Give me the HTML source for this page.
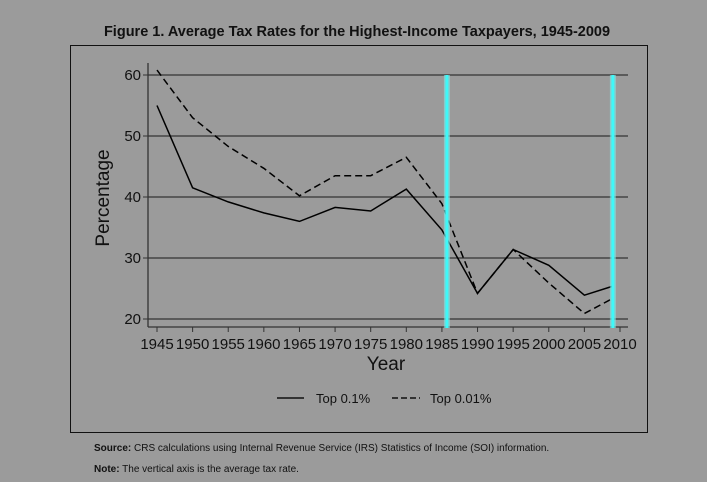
<!DOCTYPE html>
<html><head><meta charset="utf-8"><style>
html,body{margin:0;padding:0;background:#9b9b9b;width:707px;height:482px;overflow:hidden;}
svg{display:block;}
</style></head><body>
<svg width="707" height="482" xmlns="http://www.w3.org/2000/svg">
<rect x="0" y="0" width="707" height="482" fill="#9b9b9b"/>
<text x="357" y="36" text-anchor="middle" font-family="Liberation Sans, sans-serif" font-size="14.5" font-weight="bold" fill="#111">Figure 1. Average Tax Rates for the Highest-Income Taxpayers, 1945-2009</text>
<rect x="70.5" y="45.5" width="577" height="387" fill="none" stroke="#111" stroke-width="1"/>
<g id="grid"></g>
<g id="axes"></g>
<g id="series"></g>
<g id="markers"></g>
<text x="0" y="0" transform="translate(109,198) rotate(-90)" text-anchor="middle" font-family="Liberation Sans, sans-serif" font-size="19" fill="#111">Percentage</text>
<text x="386" y="370" text-anchor="middle" font-family="Liberation Sans, sans-serif" font-size="19" fill="#111">Year</text>
<g>
<line x1="277" y1="398" x2="304" y2="398" stroke="#111" stroke-width="1.5"/>
<text x="316" y="403" font-family="Liberation Sans, sans-serif" font-size="13" fill="#111">Top 0.1%</text>
<line x1="392" y1="398" x2="420" y2="398" stroke="#111" stroke-width="1.5" stroke-dasharray="6,3"/>
<text x="430" y="403" font-family="Liberation Sans, sans-serif" font-size="13" fill="#111">Top 0.01%</text>
</g>
<text x="94" y="451" font-family="Liberation Sans, sans-serif" font-size="10" fill="#111"><tspan font-weight="bold">Source:</tspan> CRS calculations using Internal Revenue Service (IRS) Statistics of Income (SOI) information.</text>
<text x="94" y="472" font-family="Liberation Sans, sans-serif" font-size="10" fill="#111"><tspan font-weight="bold">Note:</tspan> The vertical axis is the average tax rate.</text>
</svg>
<script>
const years = [1945,1950,1955,1960,1965,1970,1975,1980,1985,1990,1995,2000,2005,2009];
const top01 = [55,41.5,39.2,37.4,36.0,38.3,37.7,41.3,34.6,24.2,31.4,28.8,23.9,25.4];
const top001 = [60.8,53,48.3,44.7,40.2,43.5,43.5,46.5,38.9,24.2,31.4,25.9,20.9,23.4];
const yTicks = [20,30,40,50,60];
const xTicks = [1945,1950,1955,1960,1965,1970,1975,1980,1985,1990,1995,2000,2005,2010];
const markerYears = [1985.7,2009];

const NS='http://www.w3.org/2000/svg';
function X(v){return 157+(v-1945)*(620-157)/65;}
function Y(v){return 319-(v-20)*(319-75)/40;}
function mk(tag,attrs,parent){const e=document.createElementNS(NS,tag);for(const k in attrs)e.setAttribute(k,attrs[k]);document.getElementById(parent).appendChild(e);return e;}

yTicks.forEach(t=>{
  const g=mk('line',{x1:148,x2:628,y1:Y(t),y2:Y(t),stroke:'#333','stroke-width':1.3},'grid');
  
  
  const tk=mk('line',{x1:143,x2:148,y1:Y(t),y2:Y(t),stroke:'#333','stroke-width':1},'axes');
  
  
  const tx=mk('text',{x:141,y:Y(t)+5,'text-anchor':'end','font-family':'Liberation Sans, sans-serif','font-size':15,fill:'#111'},'axes');
  tx.textContent=t;
  
  
});
xTicks.forEach(t=>{
  const tk=mk('line',{x1:X(t),x2:X(t),y1:327,y2:332,stroke:'#333','stroke-width':1},'axes');
  
  
  const tx=mk('text',{x:X(t),y:349,'text-anchor':'middle','font-family':'Liberation Sans, sans-serif','font-size':15,fill:'#111'},'axes');
  tx.textContent=t;
  
  
});
const ya=mk('line',{x1:148,x2:148,y1:63,y2:327,stroke:'#333','stroke-width':1.3},'axes');


const xa=mk('line',{x1:148,x2:628,y1:327,y2:327,stroke:'#333','stroke-width':1.3},'axes');



function pts(vals){return vals.map((v,i)=>X(years[i]).toFixed(1)+','+Y(v).toFixed(1)).join(' ');}
const l1=mk('polyline',{points:pts(top01),fill:'none',stroke:'#000','stroke-width':1.5},'series');


const l2=mk('polyline',{points:pts(top001),fill:'none',stroke:'#000','stroke-width':1.5,'stroke-dasharray':'7,4'},'series');



markerYears.forEach(yr=>{
  const g=mk('line',{x1:X(yr),x2:X(yr),y1:75,y2:328,stroke:'#7fe8e8','stroke-width':6,opacity:0.6},'markers');
  
  
  const m=mk('line',{x1:X(yr),x2:X(yr),y1:75,y2:328,stroke:'#3ff8f8','stroke-width':3},'markers');
  
  
});
</script>
</body></html>
